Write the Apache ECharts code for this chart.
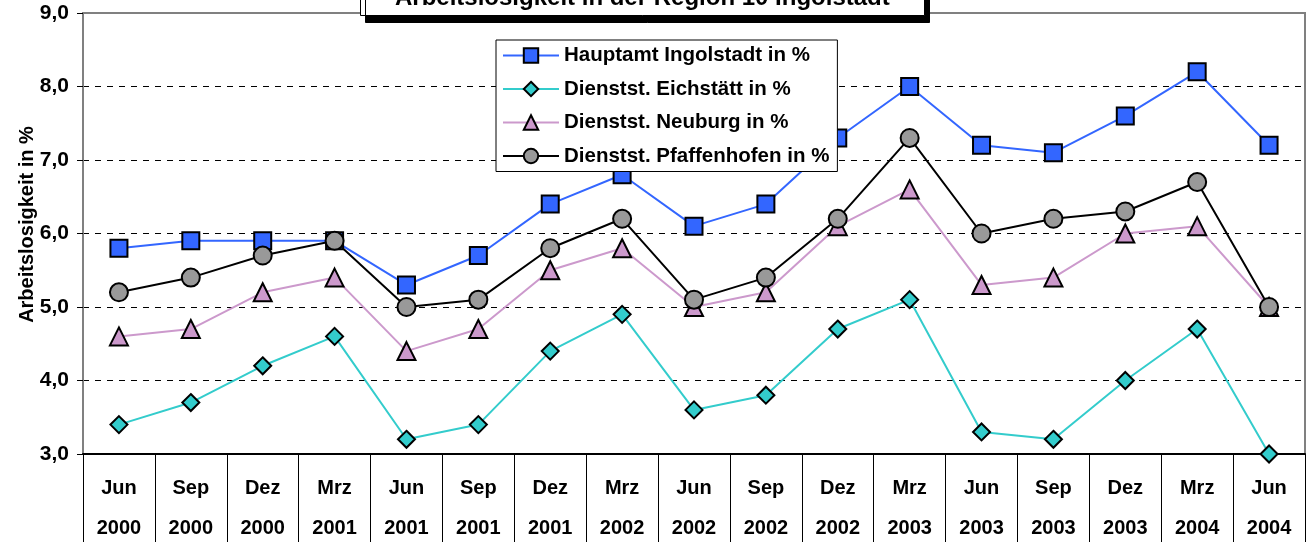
<!DOCTYPE html>
<html>
<head>
<meta charset="utf-8">
<script src="https://cdn.jsdelivr.net/npm/echarts@6/dist/echarts.min.js"></script>
<style>
  html, body { margin: 0; padding: 0; background: #fff; }
  #chart { width: 1316px; height: 542px; }
</style>
</head>
<body>
<div id="chart"></div>
<script>
// quarters shown on the x axis (month + year on two rows)
const months = ['Jun', 'Sep', 'Dez', 'Mrz', 'Jun', 'Sep', 'Dez', 'Mrz', 'Jun', 'Sep', 'Dez', 'Mrz', 'Jun', 'Sep', 'Dez', 'Mrz', 'Jun'];
const years = ['2000', '2000', '2000', '2001', '2001', '2001', '2001', '2002', '2002', '2002', '2002', '2003', '2003', '2003', '2003', '2004', '2004'];

// unemployment rates in %
const ingolstadt = [5.8, 5.9, 5.9, 5.9, 5.3, 5.7, 6.4, 6.8, 6.1, 6.4, 7.3, 8.0, 7.2, 7.1, 7.6, 8.2, 7.2];
const eichstaett = [3.4, 3.7, 4.2, 4.6, 3.2, 3.4, 4.4, 4.9, 3.6, 3.8, 4.7, 5.1, 3.3, 3.2, 4.0, 4.7, 3.0];
const neuburg = [4.6, 4.7, 5.2, 5.4, 4.4, 4.7, 5.5, 5.8, 5.0, 5.2, 6.1, 6.6, 5.3, 5.4, 6.0, 6.1, 5.0];
const pfaffenhofen = [5.2, 5.4, 5.7, 5.9, 5.0, 5.1, 5.8, 6.2, 5.1, 5.4, 6.2, 7.3, 6.0, 6.2, 6.3, 6.7, 5.0];

const categories = months.map((m, i) => m + '\n' + years[i]);
const font = 'Liberation Sans, Arial, sans-serif';

const chart = echarts.init(document.getElementById('chart'), null, { renderer: 'canvas' });

function line(name, data, color, symbol, size, fill) {
    return {
        name: name,
        type: 'line',
        data: data,
        symbol: symbol,
        symbolSize: size,
        showAllSymbol: true,
        lineStyle: { color: color, width: 2 },
        itemStyle: { color: fill, borderColor: '#000', borderWidth: 2 },
        z: 3
    };
}

const option = {
    animation: false,
    backgroundColor: '#fff',
    title: {
        text: 'Arbeitslosigkeit in der Region 10 Ingolstadt',
        left: 360,
        top: -18,
        padding: [4, 35, 6, 35],
        backgroundColor: '#fff',
        borderColor: '#000',
        borderWidth: 1,
        shadowColor: '#000',
        shadowOffsetX: 5,
        shadowOffsetY: 7,
        shadowBlur: 0,
        textStyle: { fontFamily: font, fontWeight: 'bold', fontSize: 24, lineHeight: 24, color: '#000' }
    },
    legend: {
        orient: 'vertical',
        left: 496,
        top: 40,
        padding: [5, 8, 5, 6],
        itemGap: 12.5,
        itemWidth: 56,
        itemHeight: 18,
        backgroundColor: '#fff',
        borderColor: '#000',
        borderWidth: 1,
        textStyle: { fontFamily: font, fontWeight: 'bold', fontSize: 20.5, color: '#000' },
        z: 10
    },
    grid: {
        left: 83, right: 11, top: 13, bottom: 88,
        outerBoundsMode: 'none',
        containLabel: false,
        show: true, borderColor: '#808080', borderWidth: 2
    },
    xAxis: {
        type: 'category',
        data: categories,
        boundaryGap: true,
        axisLine: { lineStyle: { color: '#000', width: 2 } },
        axisTick: { show: true, interval: 0, length: 88, lineStyle: { color: '#000', width: 1 } },
        axisLabel: {
            interval: 0, margin: 14,
            fontFamily: font, fontWeight: 'bold', fontSize: 20, color: '#000', lineHeight: 40
        }
    },
    yAxis: {
        type: 'value',
        min: 3, max: 9, interval: 1,
        name: 'Arbeitslosigkeit in %',
        nameLocation: 'middle',
        nameRotate: 90,
        nameGap: 46,
        nameMoveOverlap: false,
        nameTextStyle: { fontFamily: font, fontWeight: 'bold', fontSize: 20, color: '#000', padding: [0, 0, 0, 18] },
        axisLine: { show: true, lineStyle: { color: '#808080', width: 2 } },
        axisTick: { show: true, length: 6, lineStyle: { color: '#000' } },
        axisLabel: {
            margin: 14,
            fontFamily: font, fontWeight: 'bold', fontSize: 21, color: '#000',
            formatter: v => v.toFixed(1).replace('.', ',')
        },
        splitLine: {
            show: true,
            lineStyle: {
                type: [6, 6],
                width: 1,
                color: ['transparent', '#000', '#000', '#000', '#000', '#000', 'transparent']
            }
        }
    },
    series: [
        line('Hauptamt Ingolstadt in %', ingolstadt, '#3366FF', 'rect', 17, '#3366FF'),
        line('Dienstst. Eichstätt in %', eichstaett, '#33CCCC', 'diamond', 17, '#33CCCC'),
        line('Dienstst. Neuburg in %', neuburg, '#CC99CC', 'triangle', 18, '#CC99CC'),
        line('Dienstst. Pfaffenhofen in %', pfaffenhofen, '#000000', 'circle', 18, '#999999')
    ]
};

chart.setOption(option);
window.addEventListener('resize', chart.resize);
</script>
</body>
</html>
